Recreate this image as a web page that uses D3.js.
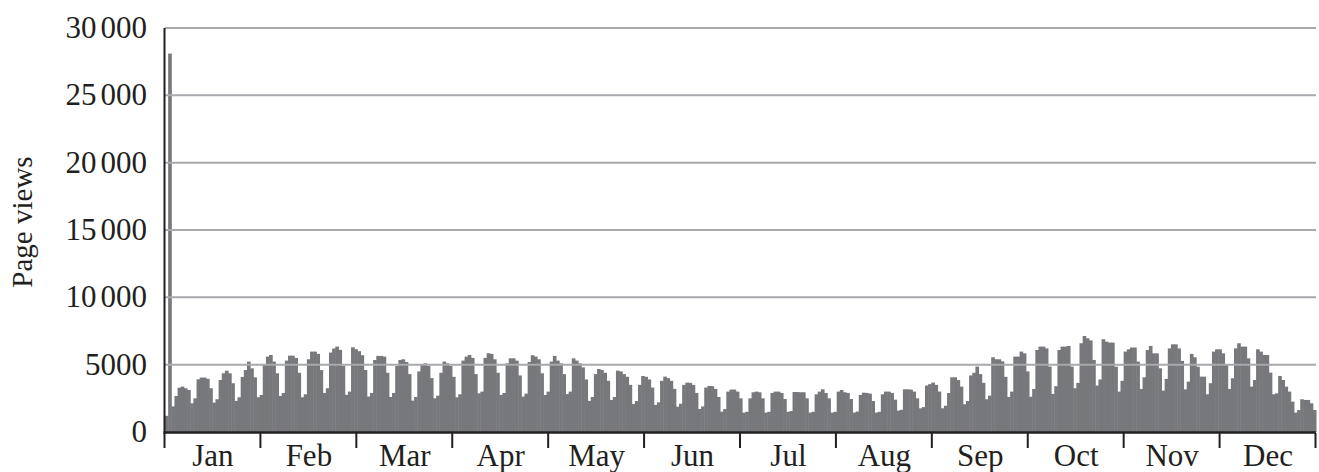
<!DOCTYPE html>
<html>
<head>
<meta charset="utf-8">
<script src="https://cdn.jsdelivr.net/npm/d3@7"></script>
<style>
  body { margin: 0; background: #fff; }
  text { font-family: "Liberation Serif", "Times New Roman", serif; fill: #231f20; }
</style>
</head>
<body>
<div id="chart"></div>
<script>
/* global d3 */

// Daily page views for one year (Jan 1 = Friday)

const months = ["Jan", "Feb", "Mar", "Apr", "May", "Jun",
                "Jul", "Aug", "Sep", "Oct", "Nov", "Dec"];

const yTicks = [0, 5000, 10000, 15000, 20000, 25000, 30000];

// one row per week, Mon..Sun (first row is Fri..Sun)
const pageViews = [
    1200, 28100, 1900,
    2670, 3290, 3370, 3250, 3120, 2130, 2500,
    3910, 4040, 4040, 3950, 3250, 2180, 2430,
    3860, 4360, 4550, 4360, 3620, 2310, 2580,
    4090, 4600, 5230, 4730, 4060, 2580, 2750,
    4980, 5600, 5720, 5230, 4360, 2680, 2900,
    5300, 5670, 5670, 5500, 4400, 2580, 2800,
    5400, 5970, 5970, 5800, 4600, 2900, 3250,
    5900, 6200, 6340, 6100, 4900, 2760, 3000,
    6290, 6150, 6000, 5700, 4600, 2630, 2900,
    5350, 5650, 5650, 5600, 4400, 2600, 2900,
    4900, 5350, 5400, 5200, 4300, 2330, 2600,
    4500, 5000, 5100, 4900, 4000, 2500, 2700,
    4400, 5230, 5100, 4900, 4100, 2580, 2800,
    5300, 5600, 5720, 5500, 4300, 2870, 3000,
    5500, 5850, 5800, 5400, 4400, 2750, 2900,
    5100, 5470, 5470, 5300, 4200, 2630, 2850,
    5200, 5700, 5600, 5400, 4360, 2750, 3000,
    5230, 5650, 5300, 5100, 4300, 2820, 3000,
    5470, 5300, 5100, 4800, 3900, 2310, 2600,
    4300, 4680, 4600, 4400, 3800, 2380, 2600,
    4560, 4500, 4300, 4100, 3500, 2080, 2300,
    3500, 4160, 4100, 3900, 3300, 2010, 2200,
    3800, 4110, 4000, 3800, 3200, 1880, 2100,
    3500, 3670, 3650, 3500, 2900, 1710, 1900,
    3300, 3420, 3400, 3200, 2600, 1510, 1700,
    3000, 3150, 3150, 3000, 2500, 1440, 1500,
    2500, 2950, 3000, 2950, 2500, 1440, 1500,
    2900, 3000, 3000, 2900, 2450, 1500, 1550,
    2970, 2970, 2950, 2950, 2500, 1440, 1500,
    2800, 3000, 3170, 2900, 2500, 1440, 1500,
    3000, 3120, 2950, 2900, 2450, 1440, 1520,
    2750, 2920, 2900, 2850, 2300, 1440, 1500,
    2800, 3000, 3000, 2900, 2400, 1590, 1650,
    3170, 3170, 3150, 3000, 2500, 1760, 1850,
    3450, 3550, 3670, 3500, 3000, 1760, 1950,
    2900, 4060, 4060, 3860, 3370, 2060, 2300,
    4200, 4400, 4860, 4300, 3650, 2430, 2700,
    5550, 5400, 5400, 5250, 4100, 2600, 3000,
    5600, 5600, 5970, 5840, 4500, 2620, 3200,
    6090, 6340, 6340, 6210, 4860, 2830, 3400,
    6090, 6340, 6340, 6390, 4860, 3250, 3650,
    6590, 7130, 6960, 6800, 5350, 3450, 3900,
    6890, 6710, 6640, 6640, 4850, 3000, 3800,
    5970, 6140, 6270, 6270, 5230, 3190, 4060,
    6090, 6390, 5840, 5840, 4730, 3070, 3940,
    6210, 6510, 6510, 6210, 5280, 3170, 3740,
    5800, 5550, 4850, 4110, 4110, 2800, 3620,
    5970, 6140, 6140, 5840, 4980, 3190, 3990,
    6210, 6590, 6340, 6340, 5470, 3370, 3860,
    6140, 5970, 5720, 5720, 4410, 2800, 2870,
    4160, 3860, 3370, 3000, 2250, 1440, 1630,
    2430, 2380, 2380, 2130, 1630
];

const width = 1319;
const height = 472;
const margin = { top: 28, right: 3, bottom: 40, left: 165 };

const svg = d3.select("#chart")
    .append("svg")
    .attr("width", width)
    .attr("height", height);

const x = d3.scaleBand()
    .domain(d3.range(pageViews.length))
    .range([margin.left, width - margin.right])
    .padding(0);

// months get equal slots on the axis
const xMonth = d3.scaleBand()
    .domain(months)
    .range([margin.left, width - margin.right]);

const y = d3.scaleLinear()
    .domain([0, 30000])
    .range([height - margin.bottom, margin.top]);

// bars
svg.append("g")
    .selectAll("rect")
    .data(pageViews)
    .enter()
    .append("rect")
    .attr("x", (d, i) => x(i))
    .attr("y", d => y(d))
    .attr("width", x.bandwidth() + 0.5)
    .attr("height", d => y(0) - y(d))
    .attr("fill", "#77787b");

// gridlines sit on top of the bars
svg.append("g")
    .selectAll("line")
    .data(yTicks.filter(d => d > 0))
    .enter()
    .append("line")
    .attr("x1", margin.left)
    .attr("x2", width - margin.right)
    .attr("y1", d => y(d))
    .attr("y2", d => y(d))
    .attr("stroke", "#a7a9ac")
    .attr("stroke-width", 2);

// axis lines
svg.append("line")
    .attr("x1", margin.left - 0.5).attr("x2", margin.left - 0.5)
    .attr("y1", y(30000)).attr("y2", y(0) + 1.5)
    .attr("stroke", "#231f20").attr("stroke-width", 2);

svg.append("line")
    .attr("x1", margin.left - 1.5).attr("x2", width - margin.right)
    .attr("y1", y(0) + 0.5).attr("y2", y(0) + 0.5)
    .attr("stroke", "#231f20").attr("stroke-width", 2.5);

// month boundary ticks
const tickX = months.map(m => xMonth(m)).concat([width - margin.right]);
svg.append("g")
    .selectAll("line")
    .data(tickX)
    .enter()
    .append("line")
    .attr("x1", d => d - 0.5).attr("x2", d => d - 0.5)
    .attr("y1", y(0) + 1).attr("y2", y(0) + 16)
    .attr("stroke", "#231f20").attr("stroke-width", 2);

// month labels
svg.append("g")
    .selectAll("text")
    .data(months)
    .enter()
    .append("text")
    .attr("x", d => xMonth(d) + xMonth.bandwidth() / 2)
    .attr("y", 466)
    .attr("text-anchor", "middle")
    .attr("font-size", "31px")
    .text(d => d);

// y labels, thousands split by a small gap
svg.append("g")
    .selectAll("text")
    .data(yTicks)
    .enter()
    .append("text")
    .attr("x", 147)
    .attr("y", d => y(d) + 10)
    .attr("text-anchor", "end")
    .attr("font-size", "31px")
    .each(function(d) {
        const s = String(d);
        const t = d3.select(this);
        if (d < 10000) {
            t.text(s);
        } else {
            t.append("tspan").text(s.slice(0, -3));
            t.append("tspan").attr("dx", 4).text(s.slice(-3));
        }
    });

// y axis title
svg.append("text")
    .attr("transform", "translate(32, 222) rotate(-90)")
    .attr("text-anchor", "middle")
    .attr("font-size", "29px")
    .text("Page views");
</script>
</body>
</html>
